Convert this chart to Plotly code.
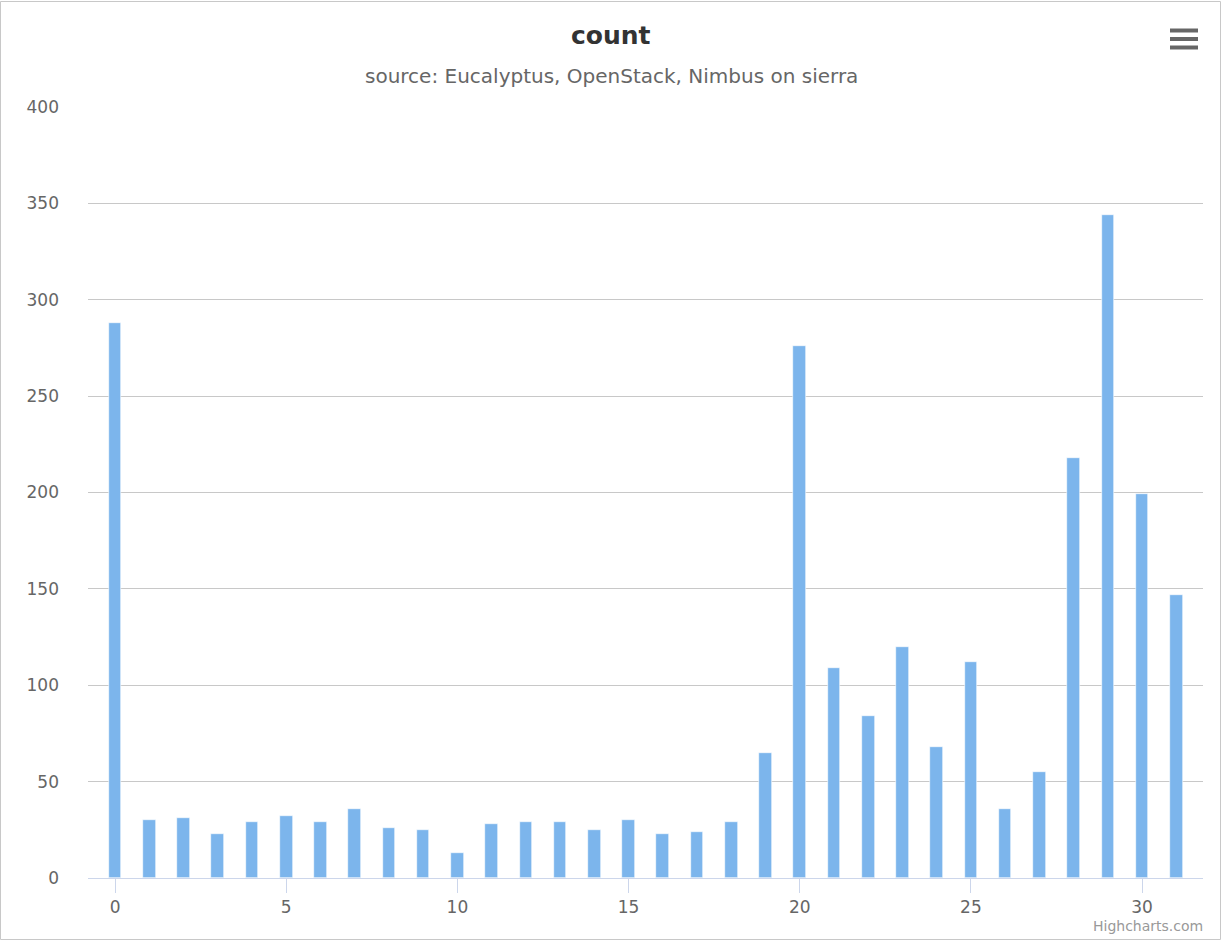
import plotly.graph_objects as go

categories = list(range(32))
counts = [288, 30, 31, 23, 29, 32, 29, 36, 26, 25, 13, 28, 29, 29, 25, 30,
          23, 24, 29, 65, 276, 109, 84, 120, 68, 112, 36, 55, 218, 344, 199, 147]
x_ticks = [0, 5, 10, 15, 20, 25, 30]
y_ticks = [0, 50, 100, 150, 200, 250, 300, 350, 400]
title_text = "count"
subtitle_text = "source: Eucalyptus, OpenStack, Nimbus on sierra"
credits_text = "Highcharts.com"

W, H = 1222, 941
ML, MR, MT, MB = 88, 19, 107, 63
PW, PH = W - ML - MR, H - MT - MB

def px(x):
    return (x - ML) / PW

def py(y):
    return (H - MB - y) / PH

FONT = "DejaVu Sans"

fig = go.Figure()
fig.add_trace(go.Bar(
    x=categories, y=counts, width=0.37,
    marker=dict(color="#7cb5ec", line=dict(color="#ffffff", width=0.6)),
    name="count", showlegend=False,
))

shapes = [
    dict(type="rect", xref="paper", yref="paper",
         x0=px(0.5), x1=px(W - 1.5), y0=py(H - 1.5), y1=py(1.5),
         line=dict(color="#c8c8c8", width=1), layer="below"),
]
for yy in (30.5, 39, 47.5):
    shapes.append(dict(type="line", xref="paper", yref="paper",
                       x0=px(1170), x1=px(1198), y0=py(yy), y1=py(yy),
                       line=dict(color="#666666", width=4)))

fig.update_layout(
    width=W, height=H,
    margin=dict(l=ML, r=MR, t=MT, b=MB),
    paper_bgcolor="white", plot_bgcolor="white",
    font=dict(family=FONT, color="#666666"),
    bargap=0,
    xaxis=dict(
        range=[-0.79, 31.78],
        tickmode="array", tickvals=x_ticks, ticktext=[str(v) for v in x_ticks],
        showgrid=False, zeroline=False,
        showline=True, linecolor="#ccd6eb", linewidth=1,
        ticks="outside", ticklen=14, tickcolor="#ccd6eb", tickwidth=1,
        tickfont=dict(family=FONT, size=17, color="#666666"),
    ),
    yaxis=dict(
        range=[0, 400],
        tickmode="array", tickvals=y_ticks, ticktext=[str(v) for v in y_ticks],
        showgrid=True, gridcolor="#c8c8c8", gridwidth=1,
        zeroline=False, showline=False,
        tickfont=dict(family=FONT, size=17, color="#666666"),
        ticklabelstandoff=28,
    ),
    shapes=shapes,
    annotations=[
        dict(text="<b>" + title_text + "</b>", xref="paper", yref="paper",
             x=px(W / 2), y=py(35), xanchor="center", yanchor="middle",
             showarrow=False, font=dict(family=FONT, size=25, color="#333333")),
        dict(text=subtitle_text, xref="paper", yref="paper",
             x=px(W / 2), y=py(76), xanchor="center", yanchor="middle",
             showarrow=False, font=dict(family=FONT, size=20, color="#666666")),
        dict(text=credits_text, xref="paper", yref="paper",
             x=px(1205), y=py(936), xanchor="right", yanchor="bottom",
             showarrow=False, font=dict(family=FONT, size=14, color="#999999")),
    ],
)

fig.write_html("out.html", config={"displayModeBar": False},
               post_script="document.body.style.margin='0px';")
